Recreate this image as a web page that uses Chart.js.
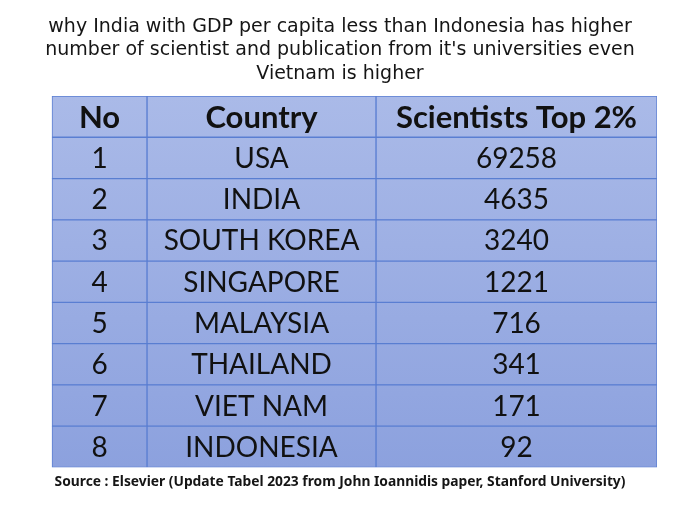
<!DOCTYPE html>
<html>
<head>
<meta charset="utf-8">
<script src="https://cdn.jsdelivr.net/npm/chart.js@4.4.0/dist/chart.umd.min.js"></script>
<style>
	body { margin: 0; background: #ffffff; }
	#wrap { width: 680px; height: 508px; }
</style>
</head>
<body>
<div id="wrap"><canvas id="table"></canvas></div>
<script>
// table data
var headers = ['No', 'Country', 'Scientists Top 2%']
var ranks = [1, 2, 3, 4, 5, 6, 7, 8]
var countries = ['USA', 'INDIA', 'SOUTH KOREA', 'SINGAPORE', 'MALAYSIA', 'THAILAND', 'VIET NAM', 'INDONESIA']
var scientists = [69258, 4635, 3240, 1221, 716, 341, 171, 92]

var titleLines = [
	'why India with GDP per capita less than Indonesia has higher',
	'number of scientist and publication from it\'s universities even',
	'Vietnam is higher'
]
var source = 'Source : Elsevier (Update Tabel 2023 from John Ioannidis paper, Stanford University)'

// column edges on the x scale (layout only), plus empty room on the left
var colEdges = [0, 95, 324, 605]
var leftGap = 29

window.onload = function()
{
	var rowLabels = ['head'].concat(ranks.map(String))
	var columns = [ranks, countries, scientists]

	function cellFill(context)
	{
		var chart = context.chart
		var area = chart.chartArea
		if(!area)
			return '#9aaee2'
		var g = chart.ctx.createLinearGradient(0, area.top, 0, area.bottom)
		g.addColorStop(0, '#aabae8')
		g.addColorStop(1, '#8ca1de')
		return g
	}

	var datasets = headers.map(function(h, ci)
	{
		return {
			label: h,
			data: rowLabels.map(function(){ return [colEdges[ci], colEdges[ci + 1]] }),
			backgroundColor: cellFill,
			borderColor: '#5a7ed2',
			borderWidth: 1,
			borderSkipped: false,
			barPercentage: 1,
			categoryPercentage: 1,
			grouped: false
		}
	})

	var cellText = {
		id: 'cellText',
		afterDatasetsDraw: function(chart)
		{
			var ctx = chart.ctx
			ctx.save()
			ctx.fillStyle = '#111111'
			ctx.textAlign = 'center'
			ctx.textBaseline = 'middle'
			for(var ci = 0; ci < headers.length; ci++)
			{
				var meta = chart.getDatasetMeta(ci)
				meta.data.forEach(function(el, i)
				{
					var p = el.getProps(['x', 'y', 'base'], true)
					var cx = (p.x + p.base) / 2
					var txt
					if(i == 0)
					{
						ctx.font = 'bold 31px Lato'
						txt = headers[ci]
					}
					else
					{
						ctx.font = '28px Lato'
						txt = String(columns[ci][i - 1])
					}
					ctx.fillText(txt, cx, p.y + 1)
				})
			}
			ctx.restore()
		}
	}

	new Chart(document.getElementById('table'), {
		type: 'bar',
		data: {
			labels: rowLabels,
			datasets: datasets
		},
		options: {
			indexAxis: 'y',
			responsive: true,
			maintainAspectRatio: false,
			animation: false,
			layout: {
				padding: { left: 23, right: 23, top: 0, bottom: 0 }
			},
			plugins: {
				legend: { display: false },
				tooltip: { enabled: false },
				title: {
					display: true,
					text: titleLines,
					color: '#151515',
					font: { family: 'DejaVu Sans', size: 19, weight: 'normal', lineHeight: 1.237 },
					padding: { top: 15.25, bottom: 10.25 }
				},
				subtitle: {
					display: true,
					position: 'bottom',
					text: source,
					color: '#151515',
					font: { family: 'Noto Sans', size: 13.8, weight: 'bold', lineHeight: 1.2 },
					padding: { top: 6, bottom: 18 }
				}
			},
			scales: {
				x: {
					display: false,
					min: colEdges[0] - leftGap,
					max: colEdges[colEdges.length - 1]
				},
				y: {
					display: false
				}
			}
		},
		plugins: [cellText]
	})
}
</script>
</body>
</html>
